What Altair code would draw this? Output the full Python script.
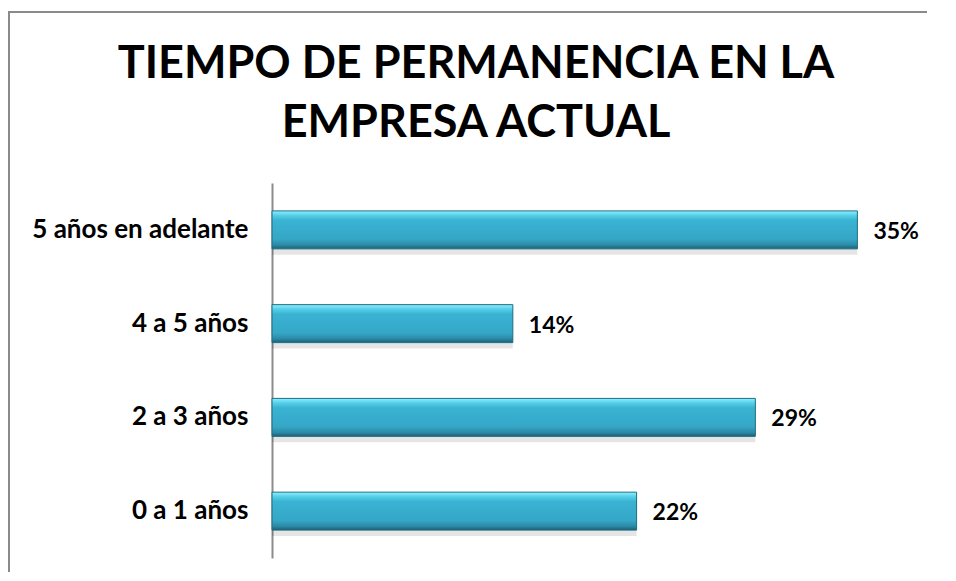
import altair as alt
import pandas as pd

categories = ["5 años en adelante", "4 a 5 años", "2 a 3 años", "0 a 1 años"]
values = [0.35, 0.144, 0.289, 0.218]
title_lines = ["TIEMPO DE PERMANENCIA EN LA", "EMPRESA ACTUAL"]

df = pd.DataFrame({"cat": categories, "val": values})

FONT = "Lato"

x_scale = alt.Scale(domain=[0, 0.40], nice=False, zero=True)
y_enc = alt.Y("cat:N", sort=categories,
              scale=alt.Scale(paddingInner=0.595, paddingOuter=0.2975),
              axis=alt.Axis(title=None, ticks=False, labelFont=FONT, labelFontSize=26,
                            labelFontWeight="bold", labelColor="#000000", labelPadding=24,
                            labelLimit=400,
                            domainColor="#8c8c8c", domainWidth=2, grid=False))

one = pd.DataFrame({"k": [1]})

frame_left = alt.Chart(one).mark_rule(stroke="#8a8a8a", strokeWidth=2, clip=False).encode(
    x=alt.value(-263), y=alt.value(-172), y2=alt.value(440)
)
frame_top = alt.Chart(one).mark_rule(stroke="#8a8a8a", strokeWidth=2, clip=False).encode(
    x=alt.value(-264), x2=alt.value(655), y=alt.value(-171)
)

title_layers = []
for line, ypix in zip(title_lines, [-105, -46]):
    title_layers.append(
        alt.Chart(pd.DataFrame({"t": [line]})).mark_text(
            align="center", baseline="alphabetic", font=FONT, fontSize=45,
            fontWeight="bold", color="#000000", clip=False
        ).encode(x=alt.value(204), y=alt.value(ypix), text="t:N")
    )

base = alt.Chart(df)

shadow = base.mark_bar(color="#000000", opacity=0.10).encode(
    x=alt.X("val:Q", scale=x_scale, axis=None),
    y=y_enc,
    yOffset=alt.value(6),
)

bars = base.mark_bar(
    stroke="#1f6d82", strokeWidth=1,
    color=alt.Gradient(
        gradient="linear", x1=0, x2=0, y1=0, y2=1,
        stops=[
            alt.GradientStop(color="#8ff0ff", offset=0.0),
            alt.GradientStop(color="#55cfe8", offset=0.12),
            alt.GradientStop(color="#3ab3d3", offset=0.25),
            alt.GradientStop(color="#35a6c6", offset=0.75),
            alt.GradientStop(color="#2b89a5", offset=0.9),
            alt.GradientStop(color="#1b5f73", offset=1.0),
        ],
    ),
).encode(
    x=alt.X("val:Q", scale=x_scale, axis=None),
    y=y_enc,
)

labels = base.mark_text(align="left", baseline="middle", dx=16, dy=2, font=FONT,
                        fontSize=23, fontWeight="bold", color="#000000").encode(
    x=alt.X("val:Q", scale=x_scale, axis=None),
    y=y_enc,
    text=alt.Text("val:Q", format=".0%"),
)

chart = alt.layer(frame_left, frame_top, *title_layers, shadow, bars, labels).properties(
    width=669, height=375,
    autosize=alt.AutoSizeParams(type="none"),
    padding={"left": 264, "top": 175, "right": 7, "bottom": 14},
).configure(background="#ffffff").configure_view(strokeWidth=0, stroke="transparent")

chart.save("out.html", embed_options={"renderer": "svg", "actions": False})
